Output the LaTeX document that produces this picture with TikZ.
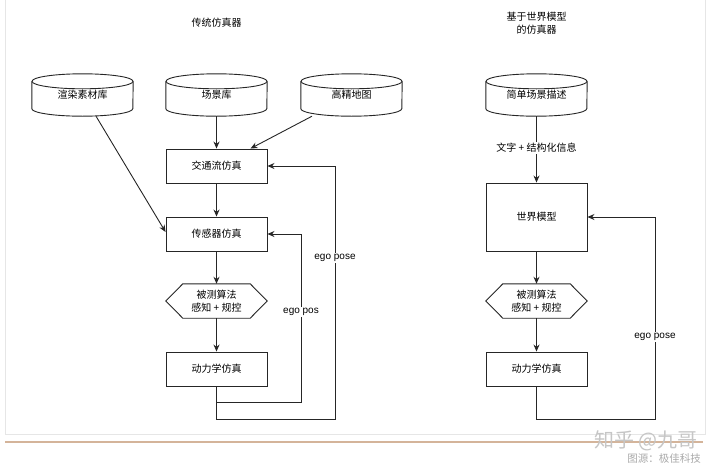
\documentclass[tikz,border=0pt]{standalone}
\usepackage{fontspec}
\setmainfont{Liberation Sans}
\newfontfamily\cjk{Noto Sans CJK SC}
\newfontfamily\cjklight{Noto Sans CJK SC Light}
\usetikzlibrary{calc,arrows.meta}
\definecolor{framegray}{HTML}{E6E6E6}
\definecolor{tanline}{HTML}{D4B49A}
\definecolor{wmgray}{HTML}{A0A0A0}
\tikzset{
  ln/.style={line width=0.9pt, draw=black!85},
  arr/.style={ln, -{Stealth[length=7pt,width=6pt]}},
  boxnode/.style={draw=black!85, line width=0.9pt, minimum width=101pt, minimum height=34pt, inner sep=0pt, font=\cjk\fontsize{10}{12}\selectfont},
  hexnode/.style={minimum width=101pt, minimum height=34pt, inner sep=0pt, align=center, font=\cjk\fontsize{10}{13}\selectfont},
  cylnode/.style={minimum width=101pt, minimum height=42pt, inner sep=0pt, font=\cjk\fontsize{10}{12}\selectfont},
  lbl/.style={fill=white, inner sep=1.5pt, font=\fontsize{10}{12}\selectfont},
  cjklbl/.style={fill=white, inner sep=1.5pt, font=\cjk\fontsize{10}{12}\selectfont},
  title/.style={align=center, font=\cjk\fontsize{10}{13}\selectfont}
}
\begin{document}
\begin{tikzpicture}[x=1pt,y=-1pt]
\useasboundingbox (0,0) rectangle (720,474);
\fill[white] (0,0) rectangle (720,474);
% frame
\draw[framegray, line width=0.8pt] (5,0) -- (5,434) -- (705,434) -- (705,0);
\draw[tanline, line width=1.2pt] (5,442) -- (703,442);

% titles
\node[title] (t1) at (216.5,23) {传统仿真器};
\node[title] (t2) at (536.5,23.5) {基于世界模型\\的仿真器};

% cylinders (helper nodes)
\node[cylnode] (r) at (82.5,95) {\raisebox{-4.5pt}{渲染素材库}};
\node[cylnode] (s) at (216.5,95) {\raisebox{-4.5pt}{场景库}};
\node[cylnode] (h) at (351.5,95) {\raisebox{-4.5pt}{高精地图}};
\node[cylnode] (sd) at (536.5,95) {\raisebox{-4.5pt}{简单场景描述}};
\foreach \n in {r,s,h,sd}{
  \draw[ln] ($(\n.north west)+(0,7.5)$) -- ($(\n.south west)+(0,-7.5)$)
     arc[start angle=180, end angle=360, x radius=50.5pt, y radius=7.5pt]
     -- ($(\n.north east)+(0,7.5)$);
  \draw[ln] ($(\n.north)+(0,7.5)$) ellipse[x radius=50.5pt, y radius=7.5pt];
}

% left column
\node[boxnode] (tf) at (216.5,166) {交通流仿真};
\node[boxnode] (sen) at (216.5,234) {传感器仿真};
\node[hexnode] (alg) at (216.5,301) {被测算法\\感知 + 规控};
\node[boxnode] (dyn) at (216.5,369) {动力学仿真};

% right column
\node[boxnode, minimum height=68pt] (wm) at (536.5,217) {世界模型};
\node[hexnode] (alg2) at (536.5,301) {被测算法\\感知 + 规控};
\node[boxnode] (dyn2) at (536.5,369) {动力学仿真};

% hexagons
\foreach \n in {alg,alg2}{
  \draw[ln] (\n.west) -- ($(\n.north west)+(17,0)$) -- ($(\n.north east)+(-17,0)$)
     -- (\n.east) -- ($(\n.south east)+(-17,0)$) -- ($(\n.south west)+(17,0)$) -- cycle;
}

% left connectors
\draw[arr] (s.south) -- (tf.north);
\draw[arr] ($(h.south)+(-39.5,0)$) -- ($(tf.north)+(34,0)$);
\draw[arr] ($(r.south)+(13.5,0)$) -- ($(sen.west)+(0,-2)$);
\draw[arr] (tf.south) -- (sen.north);
\draw[arr] (sen.south) -- (alg.north);
\draw[arr] (alg.south) -- (dyn.north);
\draw[arr] (dyn.south) -- ++(0,16) -| ($(sen.east)+(34,0)$) -- (sen.east);
\draw[arr] (dyn.south) -- ++(0,33) -| ($(tf.east)+(68,0)$) -- (tf.east);
\node[lbl] (l1) at (301,312) {ego pos};
\node[lbl] (l2) at (335,258) {ego pose};

% right connectors
\draw[arr] (sd.south) -- (wm.north);
\node[cjklbl] (l3) at (536.5,148) {文字 + 结构化信息};
\draw[arr] (wm.south) -- (alg2.north);
\draw[arr] (alg2.south) -- (dyn2.north);
\draw[arr] (dyn2.south) -- ++(0,33) -| ($(wm.east)+(68,0)$) -- (wm.east);
\node[lbl] (l4) at (655,337) {ego pose};

% watermark
\node[text=wmgray!60, font=\cjk\fontsize{20}{22}\selectfont, inner sep=0pt] (wm1) at (646,441) {知乎 @九哥};
\node[text=wmgray!90, font=\cjk\fontsize{10.5}{12}\selectfont, inner sep=0pt] (wm2) at (664,459) {图源：极佳科技};
\end{tikzpicture}
\end{document}
